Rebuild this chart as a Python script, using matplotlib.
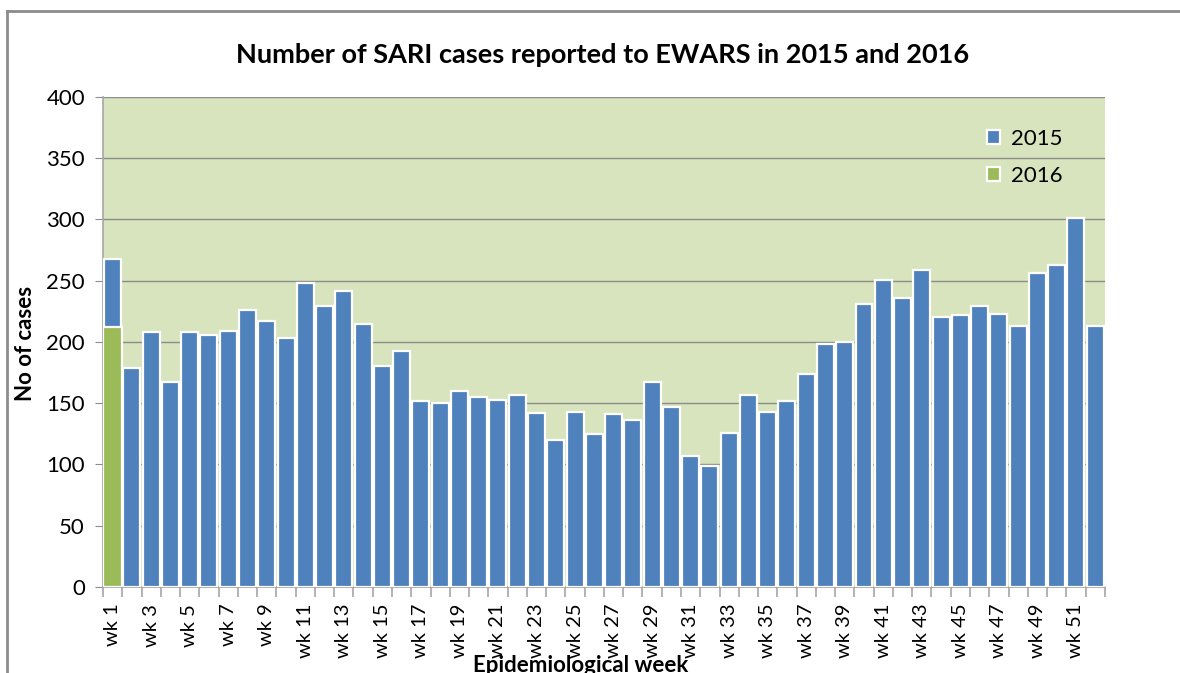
import matplotlib.pyplot as plt
from matplotlib.lines import Line2D

# data
weeks = ["wk %d" % i for i in range(1, 53)]
cases_2015 = [268, 179, 208, 167, 208, 206, 209, 226, 217, 203,
              248, 229, 242, 215, 180, 193, 152, 150, 160, 155,
              153, 157, 142, 120, 143, 125, 141, 136, 167, 147,
              107, 99, 126, 157, 143, 152, 174, 198, 200, 231,
              251, 236, 259, 220, 222, 229, 223, 213, 256, 263,
              301, 213]
weeks_2016 = ["wk 1"]
cases_2016 = [212]

blue = "#4F81BD"
green = "#9BBB59"
bg = "#D7E4BD"
grid_col = "#8C8C8C"

plt.rcParams['font.family'] = ['Lato', 'DejaVu Sans']

fig = plt.figure(figsize=(11.8, 6.73), dpi=100)
ax = fig.add_axes([0.0873, 0.1278, 0.849, 0.7281])
ax.set_facecolor(bg)

x = list(range(len(weeks)))
x16 = [weeks.index(w) for w in weeks_2016]
ax.bar(x, cases_2015, width=0.88, color=blue, edgecolor="white", linewidth=1.6,
       label="2015", zorder=3)
ax.bar(x16, cases_2016, width=0.96, color=green, edgecolor="white", linewidth=1.6,
       label="2016", zorder=4)

ax.set_xlim(-0.5, len(weeks) - 0.5)
ax.set_ylim(0, 400)
ax.set_yticks(range(0, 401, 50))
ax.grid(axis="y", color=grid_col, linewidth=1.0, zorder=1)
ax.tick_params(axis="y", length=6, color=grid_col, labelsize=16, pad=7)

# ticks on category boundaries, labels every second week
ax.set_xticks([i - 0.5 for i in range(len(weeks) + 1)])
ax.set_xticklabels([])
ax.set_xticks(x[::2], weeks[::2], minor=True, rotation=90)
ax.tick_params(axis="x", which="major", length=7, color="#A6A6A6", width=1.2)
ax.tick_params(axis="x", which="minor", length=0, labelsize=14.5, pad=12)

for s in ["top", "right"]:
    ax.spines[s].set_visible(False)
ax.spines["left"].set_color("#A6A6A6")
ax.spines["bottom"].set_color("#A6A6A6")
ax.spines["left"].set_linewidth(1.2)
ax.spines["bottom"].set_linewidth(1.2)

fig.text(0.511, 0.918, "Number of SARI cases reported to EWARS in 2015 and 2016",
         ha="center", va="center", fontsize=19.5, fontweight="bold")
fig.text(0.022, 0.49, "No of cases", rotation=90, ha="center", va="center",
         fontsize=16, fontweight="bold")
fig.text(0.492, 0.002, "Epidemiological week", ha="center", va="baseline",
         fontsize=16, fontweight="bold")

ax.legend(loc="upper left", bbox_to_anchor=(0.862, 0.975), frameon=False,
          fontsize=16, handlelength=0.6, handleheight=0.6, labelspacing=0.75,
          handletextpad=0.5)

# outer chart frame
fig.add_artist(Line2D([0.006, 0.006], [0, 0.984], color="#8C8C8C", linewidth=2))
fig.add_artist(Line2D([0.006, 1.0], [0.984, 0.984], color="#8C8C8C", linewidth=2))

fig.savefig("out.png", dpi=100)
